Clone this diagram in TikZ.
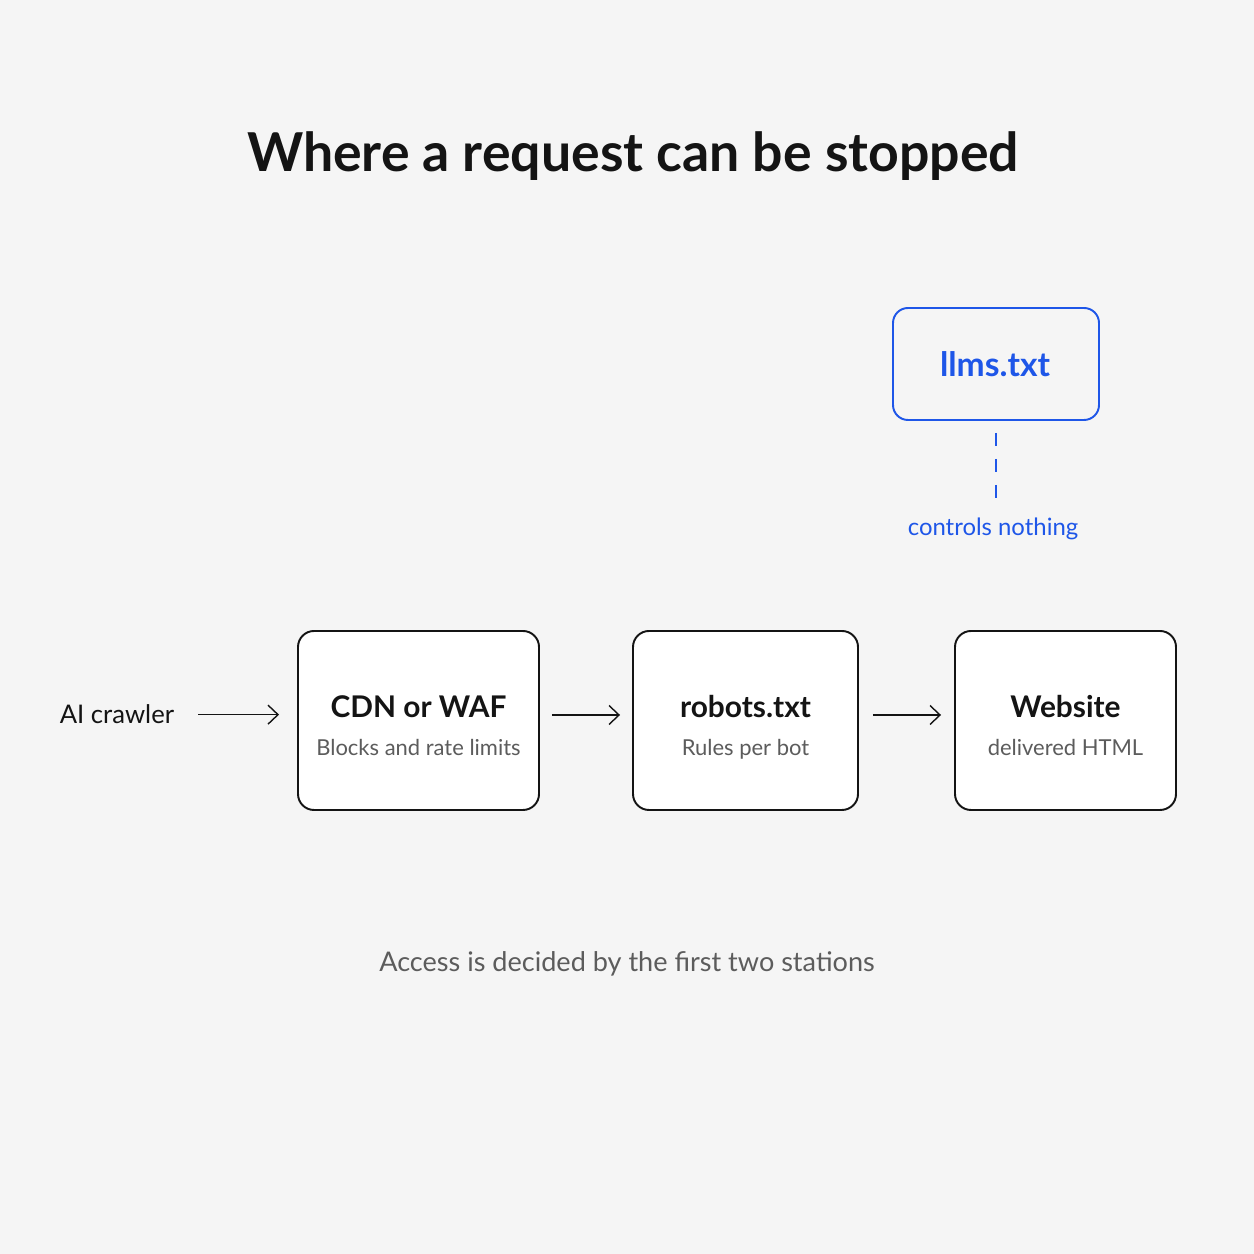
\documentclass[tikz,border=0pt]{standalone}
\usepackage{fontspec}
\setmainfont{Lato}
\usetikzlibrary{ arrows.meta, % For the open arrow tips
                 positioning,
               }
\definecolor{canvas}{HTML}{F5F5F5}
\definecolor{ink}{HTML}{141414}
\definecolor{muted}{HTML}{5C5C5C}
\definecolor{llmblue}{HTML}{1E56E8}
\tikzstyle{station} = [rectangle, rounded corners=0.32cm, draw=ink, line width=1.1pt, fill=white, minimum height=3.58cm]
\tikzstyle{stationname} = [anchor=base, inner sep=0pt, text=ink, font=\fontsize{17}{20}\selectfont\bfseries]
\tikzstyle{stationnote} = [anchor=base, inner sep=0pt, text=muted, font=\fontsize{12.5}{15}\selectfont]
\tikzstyle{flow} = [-{Straight Barb[length=0.2cm, width=0.38cm]}, draw=ink, line width=0.8pt]
\tikzstyle{hint} = [rectangle, rounded corners=0.3cm, draw=llmblue, line width=1.1pt, fill=canvas, minimum width=4.12cm, minimum height=2.24cm]

\begin{document}
\begin{tikzpicture}
  \fill [canvas] (0, 0) rectangle (25.08, 25.08);
  \useasboundingbox (0, 0) rectangle (25.08, 25.08);

  \node (title) [anchor=base, inner sep=0pt, text=ink, font=\fontsize{30.5}{36}\selectfont\bfseries] at (12.66, 21.64) {Where a request can be stopped};

  \node (cdn) [station, minimum width=4.82cm] at (8.37, 10.67) {};
  \node (cdnname) [stationname] at (8.37, 10.73) {CDN or WAF};
  \node (cdnnote) [stationnote] at (8.37, 9.96) {Blocks and rate limits};

  \node (robots) [station, minimum width=4.5cm] at (14.91, 10.67) {};
  \node (robotsname) [stationname] at (14.91, 10.73) {robots.txt};
  \node (robotsnote) [stationnote] at (14.91, 9.96) {Rules per bot};

  \node (site) [station, minimum width=4.42cm] at (21.31, 10.67) {};
  \node (sitename) [stationname] at (21.31, 10.73) {Website};
  \node (sitenote) [stationnote] at (21.31, 9.96) {delivered HTML};

  \node (crawler) [anchor=base, inner sep=0pt, text=ink, font=\fontsize{14.6}{17}\selectfont] at (2.34, 10.6) {AI crawler};
  \draw [flow, shorten <=0.48cm, shorten >=0.36cm] (crawler.east) -- (crawler.east -| cdn.west);
  \draw [flow, shorten <=0.24cm, shorten >=0.24cm] ([yshift=0.11cm]cdn.east) -- ([yshift=0.11cm]robots.west);
  \draw [flow, shorten <=0.28cm, shorten >=0.26cm] ([yshift=0.11cm]robots.east) -- ([yshift=0.11cm]site.west);

  \node (llms) [hint] at (19.92, 17.8) {};
  \node (llmsname) [anchor=base, inner sep=0pt, text=llmblue, font=\fontsize{19.1}{23}\selectfont\bfseries] at (19.9, 17.54) {llms.txt};
  \node (nothing) [anchor=base, inner sep=0pt, text=llmblue, font=\fontsize{13.6}{16}\selectfont] at (19.86, 14.36) {controls nothing};
  \draw [llmblue, line width=1.1pt, dash pattern=on 0.26cm off 0.26cm, shorten <=0.24cm, shorten >=0.32cm] (llms.south) -- (llms.south |- nothing.north);

  \node (footer) [anchor=base, inner sep=0pt, text=muted, font=\fontsize{15.4}{18}\selectfont] at (12.54, 5.64) {Access is decided by the first two stations};
\end{tikzpicture}
\end{document}
